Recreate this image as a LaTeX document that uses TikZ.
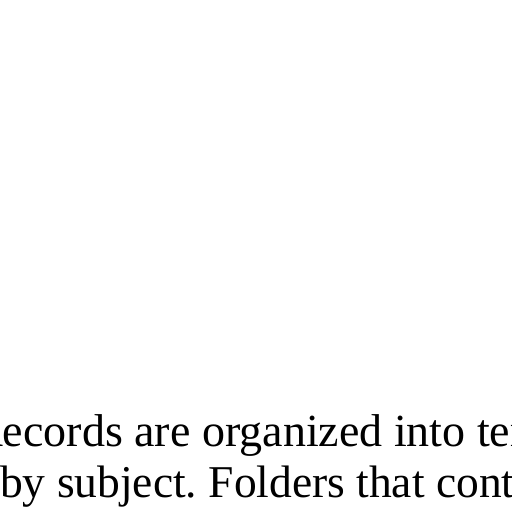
\documentclass[tikz,border=0pt]{standalone}
\usepackage{fontspec}
\setmainfont{Liberation Serif}
\usetikzlibrary{positioning}
\tikzset{
    textline/.style = {
        shape=rectangle,
        inner sep=0pt,
        anchor=base west,
        font=\fontsize{46}{52}\selectfont\frenchspacing
    },
}
\begin{document}
\begin{tikzpicture}[x=1pt,y=1pt]
                \useasboundingbox (0,0) rectangle (512,512);
                \clip (0,0) rectangle (512,512);
                \node[textline] (first) at (-28,65) {Records are organized into ter};
                \node[textline, font=\fontsize{45.5}{52}\selectfont\frenchspacing] (second) at (0,15) {by subject. Folders that cont};
            \end{tikzpicture}
\end{document}
